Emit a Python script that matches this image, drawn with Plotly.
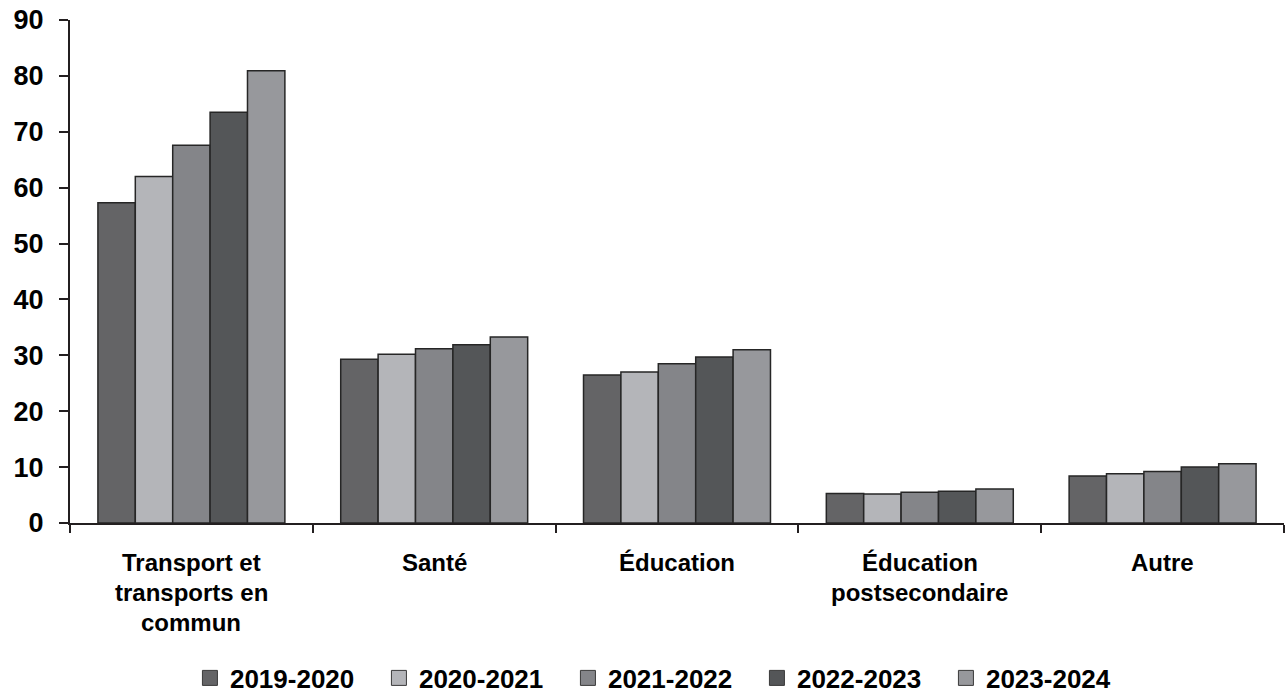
import plotly.graph_objects as go

# Category names, one list entry per label line
category_lines = [
    ["Transport et", "transports en", "commun"],
    ["Santé"],
    ["Éducation"],
    ["Éducation", "postsecondaire"],
    ["Autre"],
]
categories = [" ".join(lines) for lines in category_lines]
years = ["2019-2020", "2020-2021", "2021-2022", "2022-2023", "2023-2024"]

v_2019_2020 = [57.3, 29.3, 26.5, 5.3, 8.4]
v_2020_2021 = [62.0, 30.2, 27.0, 5.2, 8.8]
v_2021_2022 = [67.6, 31.2, 28.5, 5.5, 9.2]
v_2022_2023 = [73.5, 31.9, 29.7, 5.7, 10.0]
v_2023_2024 = [80.9, 33.3, 31.0, 6.1, 10.6]

series = [v_2019_2020, v_2020_2021, v_2021_2022, v_2022_2023, v_2023_2024]
colors = ["#646466", "#b4b5b9", "#848589", "#545658", "#97989c"]

font_family = "Liberation Sans, Arial, sans-serif"
ink = "#000000"
axis_color = "#231f20"
outline = "#262626"

W, H = 1286, 694
M_L, M_R, M_T, M_B = 70, 2, 20, 171
plot_h = H - M_T - M_B

fig = go.Figure()
for name, vals, col in zip(years, series, colors):
    fig.add_trace(go.Bar(
        x=categories,
        y=vals,
        name=name,
        legendgroup=name,
        showlegend=False,
        marker=dict(color=col, line=dict(color=outline, width=1.5)),
    ))
    # Legend key: a larger square swatch for each series
    fig.add_trace(go.Scatter(
        x=[None], y=[None],
        mode="markers",
        name=name,
        legendgroup=name,
        marker=dict(symbol="square", size=15, color=col,
                    line=dict(color="#3a3a3a", width=1)),
    ))

# Category labels: one annotation per line for a tight line pitch
line_pitch = 30
first_line_offset = 39  # px below the axis line
for cat, lines in zip(categories, category_lines):
    for i, line in enumerate(lines):
        fig.add_annotation(
            x=cat, xref="x",
            y=0, yref="paper",
            yshift=-(first_line_offset + i * line_pitch),
            text=line,
            showarrow=False,
            xanchor="center", yanchor="middle",
            font=dict(size=24, family=font_family, color=ink, weight="bold"),
        )

fig.update_layout(
    width=W,
    height=H,
    margin=dict(l=M_L, r=M_R, t=M_T, b=M_B, autoexpand=False),
    paper_bgcolor="white",
    plot_bgcolor="white",
    barmode="group",
    bargap=0.23,
    bargroupgap=0,
    font=dict(family=font_family, color=ink),
    legend=dict(
        orientation="h",
        x=0.488,
        xanchor="center",
        y=-(678 - (H - M_B)) / plot_h,
        yanchor="middle",
        font=dict(size=26, family=font_family, color=ink, weight="bold"),
        entrywidth=144,
        traceorder="normal",
    ),
    xaxis=dict(
        type="category",
        showline=True,
        linecolor=axis_color,
        linewidth=2,
        ticks="outside",
        tickson="boundaries",
        ticklen=8,
        tickwidth=2,
        tickcolor=axis_color,
        showticklabels=False,
        showgrid=False,
        automargin=False,
    ),
    yaxis=dict(
        range=[0, 90],
        dtick=10,
        showline=True,
        linecolor=axis_color,
        linewidth=2,
        ticks="outside",
        ticklen=9,
        tickwidth=2,
        tickcolor=axis_color,
        tickfont=dict(size=27, family=font_family, color=ink, weight="bold"),
        ticklabelstandoff=10,
        showgrid=False,
        zeroline=False,
        automargin=False,
    ),
)

fig.write_html("out.html")
